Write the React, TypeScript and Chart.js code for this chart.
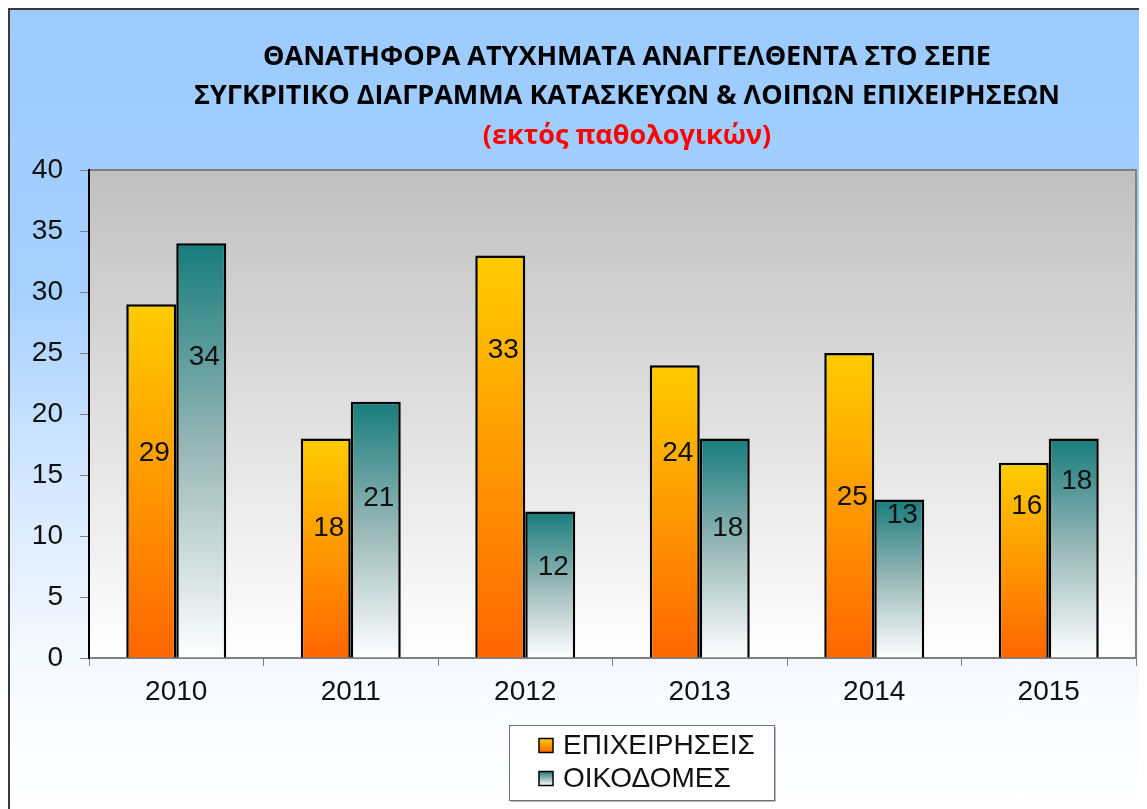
import React, { useEffect, useRef } from 'react';
import { Chart, registerables } from 'chart.js';

Chart.register(...registerables);

// ---- data ----
const categories = ['2010', '2011', '2012', '2013', '2014', '2015'];
const seriesNames = ['ΕΠΙΧΕΙΡΗΣΕΙΣ', 'ΟΙΚΟΔΟΜΕΣ'];
const businessValues = [29, 18, 33, 24, 25, 16];
const buildingValues = [34, 21, 12, 18, 13, 18];
const yMin = 0;
const yMax = 40;
const yStep = 5;
const titleLines = [
  'ΘΑΝΑΤΗΦΟΡΑ ΑΤΥΧΗΜΑΤΑ ΑΝΑΓΓΕΛΘΕΝΤΑ ΣΤΟ ΣΕΠΕ',
  'ΣΥΓΚΡΙΤΙΚΟ ΔΙΑΓΡΑΜΜΑ ΚΑΤΑΣΚΕΥΩΝ & ΛΟΙΠΩΝ ΕΠΙΧΕΙΡΗΣΕΩΝ',
];
const subtitleText = '(εκτός παθολογικών)';

const W = 1137;
const H = 799;

const yellowStops: [number, string][] = [[0, '#ffcc00'], [1, '#ff6600']];
const tealStops: [number, string][] = [[0, '#177c7c'], [0.5, '#9ab8b8'], [1, '#ffffff']];

function barGradient(stops: [number, string][]) {
  return (c: any) => {
    const chart = c.chart;
    if (!chart.chartArea || c.type !== 'data' || !chart.scales.y) return stops[0][1];
    const ys = chart.scales.y;
    const y0 = ys.getPixelForValue(0);
    const y1 = ys.getPixelForValue(c.raw);
    const g = chart.ctx.createLinearGradient(0, y1, 0, y0);
    stops.forEach(([o, col]) => g.addColorStop(o, col));
    return g;
  };
}

const plotBgPlugin = {
  id: 'plotBg',
  beforeDraw(chart: any) {
    const { ctx, chartArea: a } = chart;
    if (!a) return;
    ctx.save();
    const g = ctx.createLinearGradient(0, a.top, 0, a.bottom);
    g.addColorStop(0, '#c0c0c0');
    g.addColorStop(1, '#ffffff');
    ctx.fillStyle = g;
    ctx.fillRect(a.left, a.top, a.right - a.left, a.bottom - a.top);
    ctx.strokeStyle = '#808080';
    ctx.lineWidth = 2;
    ctx.beginPath();
    ctx.moveTo(a.left, a.top);
    ctx.lineTo(a.right, a.top);
    ctx.lineTo(a.right, a.bottom);
    ctx.stroke();
    ctx.restore();
  },
};

const labelPlugin = {
  id: 'barLabels',
  afterDatasetsDraw(chart: any, _args: any, opts: any) {
    const { ctx } = chart;
    ctx.save();
    ctx.font = '28px "Liberation Sans", Arial, sans-serif';
    ctx.fillStyle = '#111';
    ctx.textAlign = 'center';
    ctx.textBaseline = 'middle';
    chart.data.datasets.forEach((ds: any, di: number) => {
      const meta = chart.getDatasetMeta(di);
      meta.data.forEach((bar: any, i: number) => {
        const anchor = opts.anchors[di][i];
        const y = chart.scales.y.getPixelForValue(anchor);
        ctx.fillText(String(ds.data[i]), bar.x + 3, y);
      });
    });
    ctx.restore();
  },
};

const titlePlugin = {
  id: 'customTitle',
  afterDraw(chart: any, _args: any, opts: any) {
    const { ctx } = chart;
    ctx.save();
    ctx.textAlign = 'center';
    ctx.textBaseline = 'middle';
    ctx.font = `bold ${opts.size}px "Open Sans", sans-serif`;
    ctx.fillStyle = '#000';
    opts.lines.forEach((t: string, i: number) => {
      ctx.fillText(t, opts.x, opts.ys[i]);
    });
    ctx.fillStyle = '#ff0000';
    ctx.fillText(opts.sub, opts.x, opts.ys[opts.lines.length]);
    ctx.restore();
  },
};

const legendPlugin = {
  id: 'boxLegend',
  afterDraw(chart: any, _args: any, opts: any) {
    const { ctx } = chart;
    const { x, y, w, h } = opts.box;
    ctx.save();
    ctx.fillStyle = 'rgba(0,0,0,0.25)';
    ctx.fillRect(x + 2, y + 2, w, h);
    ctx.fillStyle = '#ffffff';
    ctx.fillRect(x, y, w, h);
    ctx.strokeStyle = '#6f6f6f';
    ctx.lineWidth = 1;
    ctx.strokeRect(x + 0.5, y + 0.5, w, h);
    ctx.font = '28px "Liberation Sans", Arial, sans-serif';
    ctx.textBaseline = 'middle';
    ctx.textAlign = 'left';
    chart.data.datasets.forEach((ds: any, i: number) => {
      const cy = opts.rowYs[i];
      const mx = opts.markerX;
      const ms = opts.markerSize;
      const g = ctx.createLinearGradient(0, cy - ms / 2, 0, cy + ms / 2);
      opts.stops[i].forEach(([o, col]: [number, string]) => g.addColorStop(o, col));
      ctx.fillStyle = g;
      ctx.fillRect(mx, cy - ms / 2, ms, ms);
      ctx.strokeStyle = '#000';
      ctx.lineWidth = 1.5;
      ctx.strokeRect(mx, cy - ms / 2, ms, ms);
      ctx.fillStyle = '#111';
      ctx.fillText(ds.label, opts.textX, cy + 1);
    });
    ctx.restore();
  },
};

export default function App() {
  const ref = useRef<HTMLCanvasElement | null>(null);

  useEffect(() => {
    if (!ref.current) return;
    const tickFont = { family: '"Liberation Sans", Arial, sans-serif', size: 28 };
    const chart = new Chart(ref.current, {
      type: 'bar',
      data: {
        labels: categories,
        datasets: [
          {
            label: seriesNames[0],
            data: businessValues,
            backgroundColor: barGradient(yellowStops),
            borderColor: '#000',
            borderWidth: 2.5,
            barPercentage: 1,
            categoryPercentage: 0.573,
          },
          {
            label: seriesNames[1],
            data: buildingValues,
            backgroundColor: barGradient(tealStops),
            borderColor: '#000',
            borderWidth: 2.5,
            barPercentage: 1,
            categoryPercentage: 0.573,
          },
        ],
      },
      options: {
        responsive: false,
        animation: false,
        layout: { padding: { top: 160, right: 11, left: 0, bottom: 0 } },
        plugins: {
          legend: { display: false },
          title: { display: false },
          tooltip: { enabled: false },
          barLabels: {
            anchors: [
              [16.8, 10.65, 25.2, 16.8, 13.2, 12.4],
              [24.65, 13.1, 7.45, 10.65, 11.7, 14.45],
            ],
          },
          customTitle: {
            lines: titleLines,
            sub: subtitleText,
            size: 27,
            x: 617,
            ys: [47, 86, 126],
          },
          boxLegend: {
            box: { x: 499, y: 715, w: 265, h: 75 },
            rowYs: [735.5, 768.5],
            markerX: 529,
            markerSize: 14,
            textX: 553,
            stops: [yellowStops, tealStops],
          },
        } as any,
        scales: {
          x: {
            grid: {
              display: true,
              drawOnChartArea: false,
              drawTicks: true,
              tickLength: 8,
              color: '#808080',
              offset: true,
            },
            border: { display: true, color: '#808080', width: 2 },
            ticks: { font: tickFont, color: '#111', padding: 9 },
            afterFit: (s: any) => {
              s.height = 151;
            },
          },
          y: {
            min: yMin,
            max: yMax,
            ticks: { stepSize: yStep, font: tickFont, color: '#111', padding: 17 },
            grid: { drawOnChartArea: false, drawTicks: true, tickLength: 9, color: '#808080' },
            border: { display: true, color: '#000', width: 2 },
            afterFit: (s: any) => {
              s.width = 79;
            },
          },
        },
      },
      plugins: [plotBgPlugin, labelPlugin, titlePlugin, legendPlugin],
    });
    return () => chart.destroy();
  }, []);

  return (
    <div
      style={{
        width: 1139,
        height: 801,
        boxSizing: 'border-box',
        borderLeft: '2px solid #3a3a3a',
        borderTop: '2px solid #3a3a3a',
        background:
          'linear-gradient(to bottom, #9ccbff 0%, #a6d0ff 35%, #d6e8ff 60%, #f4f8ff 80%, #ffffff 100%)',
      }}
    >
      <canvas ref={ref} width={W} height={H} style={{ display: 'block', width: W, height: H }} />
    </div>
  );
}
